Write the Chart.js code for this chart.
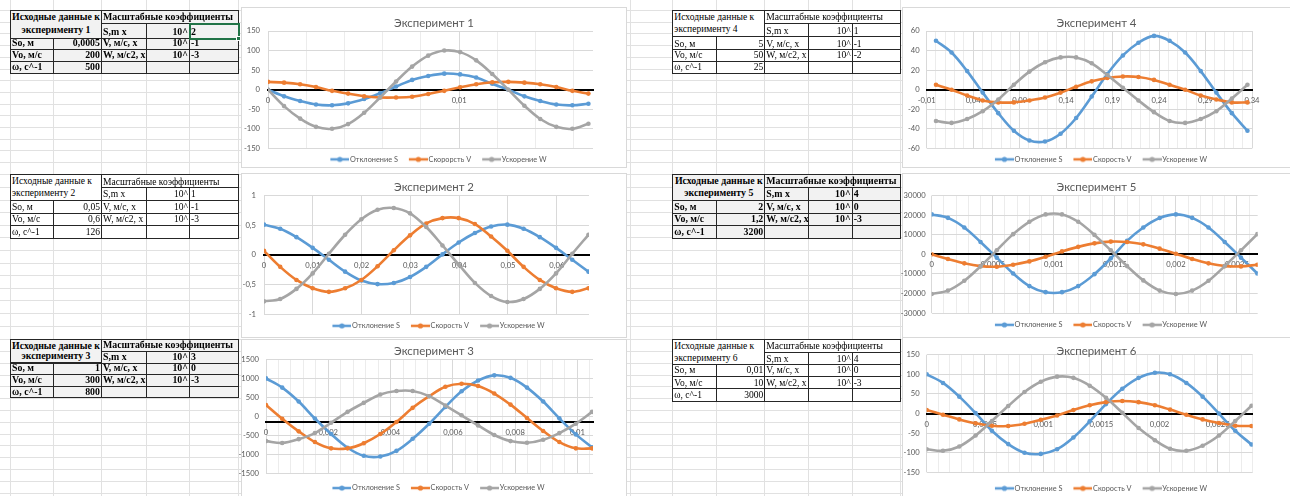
<!DOCTYPE html>
<html lang="ru">
<head>
<meta charset="utf-8">
<title>Эксперименты 1–6</title>
<script src="https://cdn.jsdelivr.net/npm/chart.js@4.4.1/dist/chart.umd.min.js"></script>
<style>
  html, body { margin: 0; padding: 0; background: #fff; }
  body { width: 1290px; height: 496px; position: relative; overflow: hidden; }
  #sheet { position: absolute; left: 0; top: 0; }
  .cell { position: absolute; box-sizing: border-box; font-family: "Liberation Serif", "Times New Roman", serif;
          color: #000; white-space: nowrap; line-height: 1; display: flex; align-items: flex-end;
          padding: 0 1px 1px 1px; overflow: visible; }
  .cell.r { justify-content: flex-end; }
  .cell.c { justify-content: center; text-align: center; }
  .cell.b { font-weight: bold; }
  .box { position: absolute; background: #fff; border: 1px solid #d9d9d9; box-sizing: border-box; }
  canvas.chart { position: absolute; }
  .sel { position: absolute; border: 2px solid #217346; box-sizing: border-box; }
  .handle { position: absolute; width: 5px; height: 5px; background: #217346; border: 1px solid #fff; box-sizing: border-box; }
</style>
</head>
<body>
<canvas id="sheet" width="1290" height="496"></canvas>
<script>
// ---------- Experiment data: time (s) and S, V, W after scaling ----------
const exp1_t = [0, 0.00084, 0.00168, 0.00251, 0.00335, 0.00419, 0.00503, 0.00586, 0.0067, 0.00754, 0.00838, 0.00922, 0.01005, 0.01089, 0.01173, 0.01257, 0.01341, 0.01424, 0.01508, 0.01592, 0.01676];
const exp1_S = [0, -17, -29, -38, -40, -35, -24, -9, 8, 25, 35, 41, 39, 31, 15, 0, -17, -29, -38, -40, -36];
const exp1_V = [20, 18, 14, 7, -3, -10, -17, -20, -20, -18, -11, -3, 6, 14, 19, 20, 18, 14, 7, -3, -10];
const exp1_W = [0, -42, -74, -95, -100, -88, -59, -20, 21, 59, 87, 100, 96, 75, 40, 0, -41, -75, -95, -100, -87];

const exp2_t = [0, 0.00332, 0.00665, 0.00997, 0.0133, 0.01662, 0.01995, 0.02327, 0.0266, 0.02992, 0.03325, 0.03657, 0.03989, 0.04322, 0.04654, 0.04987, 0.05319, 0.05652, 0.05984, 0.06317, 0.06649];
const exp2_S = [0.51, 0.44, 0.30, 0.12, -0.08, -0.28, -0.43, -0.49, -0.47, -0.37, -0.20, 0.01, 0.21, 0.37, 0.48, 0.51, 0.44, 0.30, 0.12, -0.08, -0.28];
const exp2_V = [0.07, -0.20, -0.42, -0.56, -0.62, -0.56, -0.42, -0.19, 0.08, 0.33, 0.53, 0.62, 0.62, 0.52, 0.31, 0.07, -0.20, -0.42, -0.56, -0.62, -0.56];
const exp2_W = [-0.78, -0.74, -0.57, -0.31, 0.02, 0.34, 0.60, 0.76, 0.79, 0.70, 0.47, 0.16, -0.16, -0.47, -0.69, -0.79, -0.74, -0.57, -0.31, 0.02, 0.34];

const exp3_t = [0, 0.00052, 0.00105, 0.00157, 0.00209, 0.00262, 0.00314, 0.00367, 0.00419, 0.00471, 0.00524, 0.00576, 0.00628, 0.00681, 0.00733, 0.00785, 0.00838, 0.0089, 0.00942, 0.00995, 0.01047];
const exp3_S = [1000, 760, 395, -50, -455, -815, -1025, -1045, -895, -580, -185, 255, 665, 945, 1080, 1015, 760, 395, -45, -465, -805];
const exp3_V = [305, -55, -385, -665, -830, -830, -695, -455, -140, 230, 535, 780, 860, 800, 605, 315, -35, -375, -665, -830, -830];
const exp3_W = [-640, -690, -590, -430, -160, 125, 360, 580, 670, 670, 535, 290, 35, -230, -480, -640, -685, -605, -430, -185, 125];

const exp4_t = [0, 0.01676, 0.03351, 0.05027, 0.06702, 0.08378, 0.10053, 0.11729, 0.13404, 0.1508, 0.16755, 0.18431, 0.20106, 0.21782, 0.23457, 0.25133, 0.26808, 0.28484, 0.3016, 0.31835, 0.33511];
const exp4_S = [50, 38, 19, -3, -24, -42, -52, -53, -45, -29, -7, 16, 35, 48, 55, 50, 38, 19, -3, -24, -42];
const exp4_V = [5, 0, -6, -11, -13, -13, -11, -8, -3, 3, 8.5, 12, 13.5, 13, 10, 5, 0, -6, -10, -13, -13];
const exp4_W = [-32, -34, -30, -22, -10, 5, 18.5, 28, 33, 33, 27, 15, 2, -11, -23, -32, -34, -30, -22, -9, 5];

const exp5_t = [0, 0.000133, 0.000267, 0.0004, 0.000533, 0.000667, 0.0008, 0.000933, 0.001067, 0.0012, 0.001333, 0.001467, 0.0016, 0.001733, 0.001867, 0.002, 0.002133, 0.002267, 0.0024, 0.002533, 0.002667];
const exp5_S = [20350, 18600, 13700, 6300, -1700, -9750, -16200, -19300, -19300, -16200, -10100, -2050, 6850, 13700, 18500, 20350, 18600, 13700, 6300, -1700, -9750];
const exp5_V = [0, -2400, -4600, -6000, -6300, -5300, -3600, -1200, 1500, 3800, 5600, 6500, 6300, 5100, 2900, 300, -2400, -4600, -6000, -6150, -5300];
const exp5_W = [-20200, -18500, -13500, -6150, 2050, 10300, 16600, 20350, 20350, 16600, 9900, 2050, -6000, -13300, -18500, -20200, -18500, -13500, -6000, 2050, 10300];

const exp6_t = [0, 0.00014, 0.00028, 0.00042, 0.00056, 0.0007, 0.00084, 0.00098, 0.00112, 0.00126, 0.0014, 0.00154, 0.00168, 0.00182, 0.00196, 0.00209, 0.00223, 0.00237, 0.00251, 0.00265, 0.00279];
const exp6_S = [100, 78, 43, 1, -44, -78, -100, -103, -91, -61, -20, 24, 63, 91, 104, 100, 78, 43, 0, -44, -79];
const exp6_V = [9, -3, -15, -25, -31, -32, -26, -16, -5, 9, 21, 29, 32, 29, 21, 10, -3, -15, -24, -31, -32];
const exp6_W = [-91, -95, -84, -56, -19, 19, 55, 81, 94, 91, 71, 40, 2, -37, -68, -90, -95, -82, -56, -19, 20];

// ---------- Axis ticks ----------
const exp1_xLabels = [0, 0.01];
const exp2_xLabels = [0, 0.01, 0.02, 0.03, 0.04, 0.05, 0.06];
const exp3_xLabels = [0, 0.002, 0.004, 0.006, 0.008, 0.01];
const exp4_xLabels = [-0.01, 0.04, 0.09, 0.14, 0.19, 0.24, 0.29, 0.34];
const exp5_xLabels = [0, 0.0005, 0.001, 0.0015, 0.002, 0.0025];
const exp6_xLabels = [0, 0.0005, 0.001, 0.0015, 0.002, 0.0025];

const exp1_yTicks = [-150, -100, -50, 0, 50, 100, 150];
const exp2_yTicks = [-1, -0.5, 0, 0.5, 1];
const exp3_yTicks = [-1500, -1000, -500, 0, 500, 1000, 1500];
const exp4_yTicks = [-60, -40, -20, 0, 20, 40, 60];
const exp5_yTicks = [-30000, -20000, -10000, 0, 10000, 20000, 30000];
const exp6_yTicks = [-150, -100, -50, 0, 50, 100, 150];

const seriesNames = ['Отклонение S', 'Скорость V', 'Ускорение W'];
const seriesNamesExp1 = ['Отклонение S', 'Скорорсть V', 'Ускорение W'];
const seriesColors = ['#5B9BD5', '#ED7D31', '#A5A5A5'];

// ---------- Input tables ----------
const tables = [
  { n: 1, So: '0,0005', Vo: '200', w: '500', kS: '2', kV: '-1', kW: '-3', bold: true },
  { n: 2, So: '0,05', Vo: '0,6', w: '126', kS: '1', kV: '-1', kW: '-3', bold: false },
  { n: 3, So: '1', Vo: '300', w: '800', kS: '3', kV: '0', kW: '-3', bold: true },
  { n: 4, So: '5', Vo: '50', w: '25', kS: '1', kV: '-1', kW: '-2', bold: false },
  { n: 5, So: '2', Vo: '1,2', w: '3200', kS: '4', kV: '0', kW: '-3', bold: true },
  { n: 6, So: '0,01', Vo: '10', w: '3000', kS: '4', kV: '0', kW: '-3', bold: false }
];

// ---------- Font sizing helpers ----------
const CHART_FONT = 'Lato, "Open Sans", sans-serif';
const measureCtx = document.createElement('canvas').getContext('2d');
function sizeForWidth(text, width, family, weight) {
  measureCtx.font = (weight || 'normal') + ' 100px ' + family;
  return 100 * width / measureCtx.measureText(text).width;
}
const titleSize = sizeForWidth('Эксперимент 1', 80, CHART_FONT);
const legendSize = sizeForWidth('Отклонение S', 48, CHART_FONT);
const tickSize = sizeForWidth('150', 13.3, CHART_FONT);
const cellSize = sizeForWidth('Исходные данные к', 80, '"Liberation Serif"');
const cellSizeBold = sizeForWidth('Исходные данные к', 88, '"Liberation Serif"', 'bold');

// ---------- Sheet geometry ----------
const colsLeft = [10, 52.7, 101, 145.7, 189, 238.3];
const colsRight = [672.3, 716, 764.3, 808.3, 851.7, 900];
const tableRows = {
  1: [10, 23, 37.5, 49.3, 61, 72.7], 2: [174.3, 187.3, 200, 212.7, 225, 237.5], 3: [339.2, 351, 362.5, 374.2, 385.8, 397.5],
  4: [10, 22.7, 36.2, 49.3, 61, 72.7], 5: [174.3, 187.3, 200, 212.7, 225, 237.7], 6: [339, 351.7, 364.3, 376, 388.3, 401]
};

function drawSheet() {
  const g = document.getElementById('sheet').getContext('2d');
  g.strokeStyle = '#e1e1e1';
  g.lineWidth = 1;
  const rows = [];
  for (let y = 10; y < 170; y += 11.7) rows.push(y);
  for (let y = 174.3; y < 336; y += 12.6) rows.push(y);
  for (let y = 339.2; y < 496; y += 11.8) rows.push(y);
  const vx = colsLeft.concat([630]).concat(colsRight);
  g.beginPath();
  vx.forEach(x => { const p = Math.round(x) + 0.5; g.moveTo(p, 0); g.lineTo(p, 496); });
  rows.forEach(y => { const p = Math.round(y) + 0.5; g.moveTo(0, p); g.lineTo(1290, p); });
  g.stroke();
}

function addCell(x0, y0, x1, y1, text, cls, bg, size) {
  const d = document.createElement('div');
  d.className = 'cell ' + (cls || '');
  d.style.left = x0 + 'px'; d.style.top = y0 + 'px';
  d.style.width = (x1 - x0 + 1) + 'px'; d.style.height = (y1 - y0 + 1) + 'px';
  d.style.border = '1px solid #262626';
  d.style.background = bg;
  d.style.fontSize = size + 'px';
  d.innerHTML = text;
  document.body.appendChild(d);
  return d;
}

function drawTable(t) {
  const cx = t.n <= 3 ? colsLeft : colsRight;
  const ry = tableRows[t.n];
  const b = t.bold ? ' b' : '';
  const bg = t.bold ? '#f2f2f2' : '#fff';
  const fs = t.bold ? cellSizeBold : cellSize;
  const head = addCell(cx[0], ry[0], cx[2], ry[2], '<div>Исходные данные к</div><div>эксперименту ' + t.n + '</div>', b, bg, fs);
  head.style.flexDirection = 'column';
  head.style.justifyContent = 'space-around';
  head.style.alignItems = t.bold ? 'center' : 'flex-start';
  addCell(cx[2], ry[0], cx[5], ry[1], 'Масштабные коэффициенты', b, bg, fs);
  addCell(cx[2], ry[1], cx[3], ry[2], 'S,m x', b, bg, fs);
  addCell(cx[3], ry[1], cx[4], ry[2], '10^', 'r' + b, bg, fs);
  addCell(cx[4], ry[1], cx[5], ry[2], t.kS, b, bg, fs);
  const rowsTxt = [['So, м', t.So, 'V, м/с, x', t.kV], ['Vo, м/с', t.Vo, 'W, м/с2, x', t.kW], ['ω, с^-1', t.w, '', '']];
  rowsTxt.forEach((r, i) => {
    addCell(cx[0], ry[2 + i], cx[1], ry[3 + i], r[0], b, bg, fs);
    addCell(cx[1], ry[2 + i], cx[2], ry[3 + i], r[1], 'r' + b, bg, fs);
    addCell(cx[2], ry[2 + i], cx[3], ry[3 + i], r[2], b, bg, fs);
    addCell(cx[3], ry[2 + i], cx[4], ry[3 + i], r[2] ? '10^' : '', 'r' + b, bg, fs);
    addCell(cx[4], ry[2 + i], cx[5], ry[3 + i], r[3], b, bg, fs);
  });
  if (t.n === 1) {
    const s = document.createElement('div');
    s.className = 'sel';
    s.style.left = cx[4] + 'px'; s.style.top = ry[1] + 'px';
    s.style.width = (cx[5] - cx[4] + 2) + 'px'; s.style.height = (ry[2] - ry[1] + 2) + 'px';
    document.body.appendChild(s);
    const h = document.createElement('div');
    h.className = 'handle';
    h.style.left = (cx[5] - 2) + 'px'; h.style.top = (ry[2] - 2) + 'px';
    document.body.appendChild(h);
  }
}

// ---------- Charts ----------
Chart.defaults.font.family = CHART_FONT;
Chart.defaults.color = '#595959';

function legendIcon(color) {
  const c = document.createElement('canvas');
  c.width = 31; c.height = 8;
  const g = c.getContext('2d');
  g.strokeStyle = color; g.lineWidth = 2.5;
  g.beginPath(); g.moveTo(12, 4); g.lineTo(31, 4); g.stroke();
  g.fillStyle = color;
  g.beginPath(); g.arc(21.5, 4, 2.6, 0, Math.PI * 2); g.fill();
  return c;
}
const icons = seriesColors.map(legendIcon);

const fmt = v => String(v).replace('.', ',');

const panels = [
  { title: 'Эксперимент 1', names: seriesNamesExp1, t: exp1_t, s: [exp1_S, exp1_V, exp1_W], xl: exp1_xLabels, yt: exp1_yTicks,
    xMin: 0, xMax: 0.017, minor: 0.002, cross: 0, box: [241, 7, 627, 168], plot: [268, 31, 593, 147.7], ty: 23, ly: 159, tp: 8 },
  { title: 'Эксперимент 2', names: seriesNames, t: exp2_t, s: [exp2_S, exp2_V, exp2_W], xl: exp2_xLabels, yt: exp2_yTicks,
    xMin: 0, xMax: 0.0666, minor: 0.01, cross: 0, box: [241, 172.5, 627, 338], plot: [264, 195, 589, 313.3], ty: 186.7, ly: 325, tp: 8 },
  { title: 'Эксперимент 3', names: seriesNames, t: exp3_t, s: [exp3_S, exp3_V, exp3_W], xl: exp3_xLabels, yt: exp3_yTicks,
    xMin: 0, xMax: 0.0105, minor: 0.0004, cross: -150, box: [241, 339, 627, 500], plot: [266, 359.3, 593, 473.3], ty: 351.7, ly: 487.7, tp: 7 },
  { title: 'Эксперимент 4', names: seriesNames, t: exp4_t, s: [exp4_S, exp4_V, exp4_W], xl: exp4_xLabels, yt: exp4_yTicks,
    xMin: -0.01, xMax: 0.34, minor: 0.01, cross: 0, box: [902, 7, 1291, 168], plot: [926.7, 31, 1252, 147.7], ty: 23.3, ly: 159, tp: 7 },
  { title: 'Эксперимент 5', names: seriesNames, t: exp5_t, s: [exp5_S, exp5_V, exp5_W], xl: exp5_xLabels, yt: exp5_yTicks,
    xMin: 0, xMax: 0.00267, minor: 0.0001, cross: 0, box: [902, 172.5, 1291, 338], plot: [931.7, 195, 1257.7, 312], ty: 186.7, ly: 324, tp: 6 },
  { title: 'Эксперимент 6', names: seriesNames, t: exp6_t, s: [exp6_S, exp6_V, exp6_W], xl: exp6_xLabels, yt: exp6_yTicks,
    xMin: 0, xMax: 0.0028, minor: 0.0001, cross: 0, box: [902, 337, 1291, 500], plot: [926.7, 354.7, 1252.7, 471.7], ty: 351, ly: 488, tp: 7 }
];

function gridValues(p) {
  const vals = [];
  const start = Math.ceil(p.xMin / p.minor - 1e-9);
  for (let k = start; k * p.minor <= p.xMax + 1e-12; k++) vals.push(+(k * p.minor).toFixed(8));
  p.xl.forEach(v => { if (!vals.some(u => Math.abs(u - v) < p.minor * 1e-3)) vals.push(v); });
  return vals.sort((a, b) => a - b);
}
function majorOf(p, v) { return p.xl.find(u => Math.abs(u - v) < p.minor * 1e-3); }

const SIDE = 14; // transparent canvas margin so long tick labels are not clipped

function makeChart(p) {
  const [bx0, by0, bx1, by1] = p.box;
  const [px0, py0, px1, py1] = p.plot;
  const cx0 = bx0 - SIDE, cx1 = bx1 + SIDE;
  const W = Math.round(cx1 - cx0);
  const tc = p.ty - by0, pt = py0 - by0, pb = py1 - by0, lc = p.ly - by0;
  const H = Math.ceil(lc + 14);
  const gap = Math.max(1, lc - pb - 6);

  const box = document.createElement('div');
  box.className = 'box';
  box.style.left = bx0 + 'px'; box.style.top = by0 + 'px';
  box.style.width = (bx1 - bx0) + 'px'; box.style.height = (by1 - by0) + 'px';
  document.body.appendChild(box);

  const cv = document.createElement('canvas');
  cv.className = 'chart';
  cv.width = W; cv.height = H;
  cv.style.left = cx0 + 'px'; cv.style.top = by0 + 'px';
  document.body.appendChild(cv);

  const ticksX = gridValues(p);
  const datasets = p.s.map((arr, i) => ({
    label: p.names[i],
    data: p.t.map((t, k) => ({ x: t, y: arr[k] })),
    borderColor: seriesColors[i],
    backgroundColor: seriesColors[i],
    borderWidth: 2.6,
    pointRadius: 2.3,
    pointBorderWidth: 0,
    tension: 0.35,
    showLine: true,
    order: 2 - i
  }));

  new Chart(cv, {
    type: 'scatter',
    data: { datasets },
    options: {
      responsive: false,
      animation: false,
      events: [],
      devicePixelRatio: 1,
      layout: { padding: { top: 0, left: 0, right: 0, bottom: H - (lc + 14) } },
      plugins: {
        tooltip: { enabled: false },
        title: {
          display: true, text: p.title, color: '#595959',
          font: { size: titleSize, weight: 'normal', lineHeight: 6 / titleSize },
          padding: { top: tc - 3, bottom: Math.max(0, pt - tc - 3) }
        },
        legend: {
          position: 'bottom',
          title: { display: true, text: '', font: { size: 1, lineHeight: 1 }, padding: { top: gap - 1, bottom: 0 } },
          labels: {
            font: { size: legendSize }, color: '#595959', padding: 2, usePointStyle: true, pointStyleWidth: 25, boxHeight: 8,
            sort: (a, b) => a.datasetIndex - b.datasetIndex,
            generateLabels(chart) {
              const items = Chart.defaults.plugins.legend.labels.generateLabels(chart);
              items.forEach(it => { it.pointStyle = icons[it.datasetIndex]; });
              return items;
            }
          }
        }
      },
      scales: {
        x: {
          type: 'linear', position: { y: p.cross }, min: p.xMin, max: p.xMax,
          afterBuildTicks: s => { s.ticks = ticksX.map(v => ({ value: v })); },
          ticks: {
            autoSkip: false, maxRotation: 0, padding: 6, font: { size: tickSize }, color: '#595959',
            callback: v => { const m = majorOf(p, v); return m === undefined ? '' : fmt(m); }
          },
          grid: { drawTicks: false, color: c => (c.tick && majorOf(p, c.tick.value) !== undefined) ? '#d9d9d9' : '#ececec' },
          border: { display: true, color: '#000', width: 2 }
        },
        y: {
          type: 'linear', position: 'left', min: p.yt[0], max: p.yt[p.yt.length - 1],
          afterBuildTicks: s => { s.ticks = p.yt.map(v => ({ value: v })); },
          afterFit: s => { s.width = px0 - cx0; },
          ticks: { padding: p.tp, font: { size: tickSize }, color: '#595959', callback: v => fmt(v) },
          grid: { drawTicks: false, color: '#d9d9d9' },
          border: { display: false }
        },
        yR: {
          type: 'linear', position: 'right', display: true,
          afterFit: s => { s.width = cx1 - px1; },
          ticks: { display: false },
          grid: { display: false, drawTicks: false },
          border: { display: false }
        }
      }
    }
  });
}

drawSheet();
tables.forEach(drawTable);
panels.forEach(makeChart);
</script>
</body>
</html>
